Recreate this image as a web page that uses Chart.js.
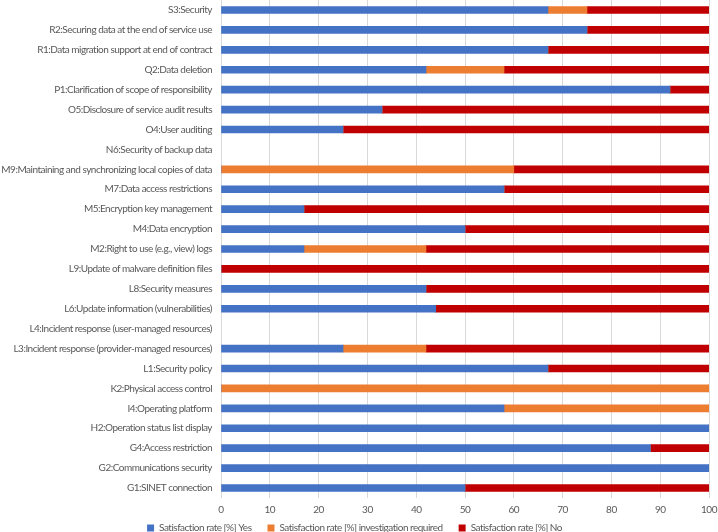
<!DOCTYPE html>
<html>
<head>
<meta charset="utf-8">
<script src="https://cdn.jsdelivr.net/npm/chart.js@4/dist/chart.umd.min.js"></script>
<style>
  html, body { margin: 0; padding: 0; background: #fff; }
  #wrap { width: 718px; height: 532px; }
</style>
</head>
<body>
<div id="wrap"><canvas id="chart"></canvas></div>
<script>
// categories, top to bottom
const categories = [
  'S3:Security',
  'R2:Securing data at the end of service use',
  'R1:Data migration support at end of contract',
  'Q2:Data deletion',
  'P1:Clarification of scope of responsibility',
  'O5:Disclosure of service audit results',
  'O4:User auditing',
  'N6:Security of backup data',
  'M9:Maintaining and synchronizing local copies of data',
  'M7:Data access restrictions',
  'M5:Encryption key management',
  'M4:Data encryption',
  'M2:Right to use (e.g., view) logs',
  'L9:Update of malware definition files',
  'L8:Security measures',
  'L6:Update information (vulnerabilities)',
  'L4:Incident response (user-managed resources)',
  'L3:Incident response (provider-managed resources)',
  'L1:Security policy',
  'K2:Physical access control',
  'I4:Operating platform',
  'H2:Operation status list display',
  'G4:Access restriction',
  'G2:Communications security',
  'G1:SINET connection'
];

const yesRate    = [67, 75, 67, 42, 92, 33, 25, null, 0, 58, 17, 50, 17, 0, 42, 44, null, 25, 67, 0, 58, 100, 88, 100, 50];
const investRate = [8, 0, 0, 16, 0, 0, 0, null, 60, 0, 0, 0, 25, 0, 0, 0, null, 17, 0, 100, 42, 0, 0, 0, 0];
const noRate     = [25, 25, 33, 42, 8, 67, 75, null, 40, 42, 83, 50, 58, 100, 58, 56, null, 58, 33, 0, 0, 0, 12, 0, 50];

const xTicks = [0, 10, 20, 30, 40, 50, 60, 70, 80, 90, 100];

const fontFamily = "'Lato', sans-serif";
const fontSize = 10;
const textColor = '#595959';

// the original uses a narrow font, so squeeze the letters a bit
const tightText = {
  id: 'tightText',
  beforeLayout(chart) { chart.ctx.letterSpacing = '-0.5px'; },
  beforeDraw(chart) { chart.ctx.letterSpacing = '-0.5px'; }
};

// keep wide gaps between legend items but take little height for the legend
const legendTweak = {
  id: 'legendTweak',
  afterInit(chart) {
    const lg = chart.legend;
    const fit = lg.fit;
    lg.fit = function () { fit.call(this); this.height = 10; };
  },
  afterLayout(chart) { chart.legend.top -= 15; }
};

new Chart(document.getElementById('chart'), {
  type: 'bar',
  data: {
    labels: categories,
    datasets: [
      { label: 'Satisfaction rate [%] Yes', data: yesRate, backgroundColor: '#4472C4' },
      { label: 'Satisfaction rate [%] investigation required', data: investRate, backgroundColor: '#ED7D31' },
      { label: 'Satisfaction rate [%] No', data: noRate, backgroundColor: '#C00000' }
    ]
  },
  plugins: [tightText, legendTweak],
  options: {
    indexAxis: 'y',
    responsive: true,
    maintainAspectRatio: false,
    animation: false,
    barThickness: 7,
    layout: { padding: { top: 0, right: 9, bottom: 0, left: 0 } },
    scales: {
      x: {
        stacked: true,
        min: 0,
        max: 100,
        afterBuildTicks: (axis) => { axis.ticks = xTicks.map(v => ({ value: v })); },
        afterFit: (scale) => {
          scale.paddingLeft = 0;
          scale.paddingRight = 0;
        },
        grid: { color: '#d9d9d9', tickLength: 0 },
        border: { display: false },
        ticks: { color: textColor, padding: 6, font: { family: fontFamily, size: fontSize } }
      },
      y: {
        stacked: true,
        grid: { display: false, drawTicks: false },
        border: { display: false },
        afterFit: (scale) => {
          scale.width = 221;
          scale.paddingTop = 0;
          scale.paddingBottom = 0;
        },
        ticks: { color: textColor, padding: 9, autoSkip: false, font: { family: fontFamily, size: fontSize } }
      }
    },
    plugins: {
      legend: {
        position: 'bottom',
        labels: {
          color: textColor,
          boxWidth: 7,
          boxHeight: 7,
          padding: 16,
          font: { family: fontFamily, size: fontSize }
        }
      },
      tooltip: { enabled: false }
    }
  }
});
</script>
</body>
</html>
